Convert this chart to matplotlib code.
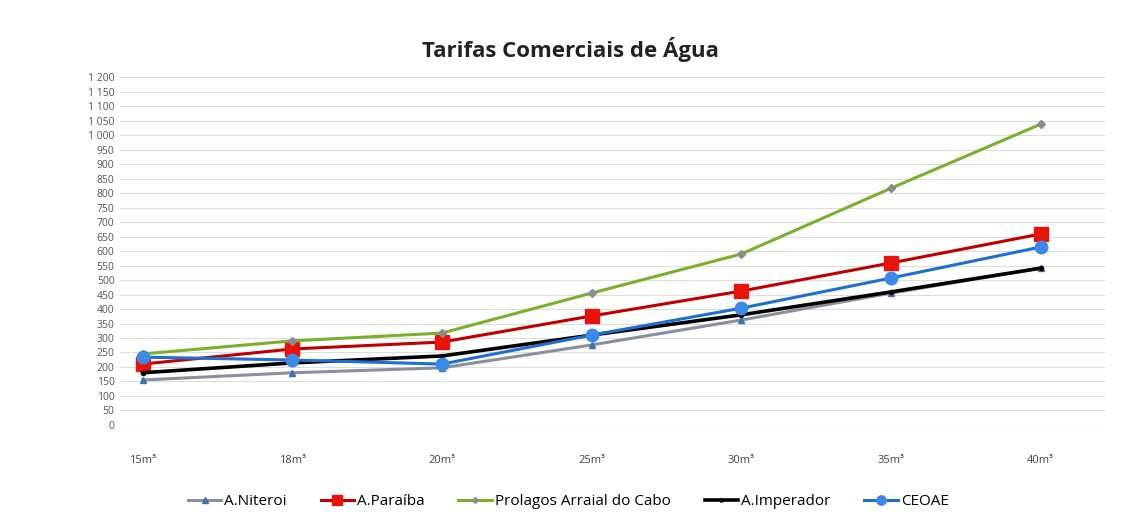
import numpy as np
import matplotlib.pyplot as plt
from matplotlib.ticker import FuncFormatter

categorias = ["15m³", "18m³", "20m³", "25m³", "30m³", "35m³", "40m³"]

niteroi = [155, 180, 197, 276, 362, 455, 541]
paraiba = [210, 262, 286, 376, 462, 559, 659]
prolagos = [245, 290, 317, 455, 590, 817, 1038]
imperador = [180, 214, 238, 310, 380, 459, 541]
ceoae = [234, 224, 210, 310, 403, 507, 614]

plt.rcParams['font.family'] = ['Open Sans', 'DejaVu Sans']

fig = plt.figure(figsize=(11.23, 5.22), dpi=100)
ax = fig.add_axes([0.107, 0.186, 0.877, 0.666])

x = np.arange(len(categorias))

ax.plot(x, niteroi, color='#8a8f9e', lw=2.2, marker='^', ms=5,
        mfc='#3f6fb5', mec='#3f6fb5', label='A.Niteroi')
ax.plot(x, paraiba, color='#c00000', lw=2.2, marker='s', ms=10,
        mfc='#e8140c', mec='#e8140c', label='A.Paraíba')
ax.plot(x, prolagos, color='#7ab02c', lw=2.2, marker='D', ms=4,
        mfc='#8c8c8c', mec='#8c8c8c', label='Prolagos Arraial do Cabo')
ax.plot(x, imperador, color='#000000', lw=2.6, marker='o', ms=3,
        mfc='#000000', mec='#000000', label='A.Imperador')
ax.plot(x, ceoae, color='#1f6fd0', lw=2.2, marker='o', ms=9,
        mfc='#3a8ae6', mec='#3a8ae6', label='CEOAE')

ax.set_xlim(-0.15, 6.43)
ax.set_ylim(0, 1200)
ax.set_yticks(np.arange(0, 1201, 50))
ax.yaxis.set_major_formatter(FuncFormatter(lambda v, p: f"{int(v):,}".replace(",", " ")))
ax.set_xticks(x)
ax.set_xticklabels(categorias)
ax.tick_params(axis='y', length=0, labelsize=7.5, labelcolor='#555555', pad=4)
ax.tick_params(axis='x', length=0, labelsize=8, labelcolor='#444444', pad=22)

ax.grid(axis='y', color='#dddddd', lw=0.8)
ax.set_axisbelow(True)
for s in ax.spines.values():
    s.set_visible(False)

fig.suptitle('Tarifas Comerciais de Água', x=0.508, y=0.93,
             fontsize=16, fontweight='bold', color='#222222')

ax.legend(loc='upper center', bbox_to_anchor=(0.455, -0.16), ncol=5,
          frameon=False, fontsize=11, handlelength=2.2, columnspacing=2.2,
          handletextpad=0.2, markerscale=0.75)

fig.savefig('out.png', dpi=100)
